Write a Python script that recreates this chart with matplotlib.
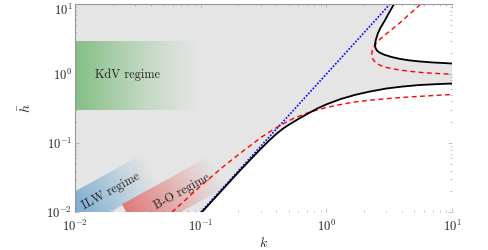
import numpy as np
import matplotlib
matplotlib.use("Agg")
import matplotlib.pyplot as plt
from matplotlib.patches import Polygon
from matplotlib.ticker import LogLocator, NullFormatter
from matplotlib.colors import to_rgb
from matplotlib.transforms import ScaledTranslation

plt.rcParams["mathtext.fontset"] = "cm"
plt.rcParams["font.family"] = ["cmr10", "DejaVu Serif"]
plt.rcParams["axes.formatter.use_mathtext"] = True

# ---------------- data ----------------
k_blue = [0.1, 3.2]
h_blue = [0.01, 10.0]

k_black_lo = [0.102, 0.2, 0.3, 0.35, 0.4, 0.45, 0.5, 0.6, 0.7, 0.85, 1.0, 1.3, 1.7, 2.2, 3.0, 4.0, 5.5, 7.5, 10.0]
h_black_lo = [0.01, 0.038, 0.082, 0.108, 0.135, 0.16, 0.182, 0.222, 0.26, 0.315, 0.36, 0.43, 0.495, 0.55, 0.61, 0.65, 0.685, 0.705, 0.72]

k_black_up = [3.45, 3.15, 2.9, 2.7, 2.57, 2.48, 2.44, 2.46, 2.53, 2.67, 2.9, 3.3, 3.8, 4.5, 5.5, 7.0, 10.0]
h_black_up = [10.0, 7.5, 5.7, 4.6, 3.8, 3.1, 2.65, 2.35, 2.15, 2.0, 1.87, 1.74, 1.64, 1.56, 1.5, 1.45, 1.4]

k_red_lo = [0.059, 0.1, 0.15, 0.2, 0.255, 0.306, 0.38, 0.455, 0.55, 0.74, 1.0, 1.21, 1.6, 2.16, 3.2, 4.64, 7.0, 10.0]
h_red_lo = [0.01, 0.024, 0.045, 0.068, 0.095, 0.122, 0.157, 0.19, 0.227, 0.279, 0.325, 0.35, 0.385, 0.412, 0.44, 0.462, 0.482, 0.5]

k_red_up = [5.6, 4.9, 4.3, 3.8, 3.35, 3.0, 2.7, 2.5, 2.37, 2.31, 2.3, 2.34, 2.45, 2.65, 3.0, 3.6, 4.6, 6.0, 8.0, 10.0]
h_red_up = [10.0, 8.0, 6.5, 5.3, 4.4, 3.75, 3.2, 2.75, 2.4, 2.1, 1.85, 1.63, 1.46, 1.33, 1.23, 1.15, 1.08, 1.03, 1.0, 0.98]

x_ticks = [1e-2, 1e-1, 1e0, 1e1]
x_tick_labels = [r"$10^{-2}$", r"$10^{-1}$", r"$10^{0}$", r"$10^{1}$"]
y_ticks = [1e-2, 1e-1, 1e0, 1e1]
y_tick_labels = [r"$10^{-2}$", r"$10^{-1}$", r"$10^{0}$", r"$10^{1}$"]

regime_labels = ["KdV regime", "ILW regime", "B-O regime"]
regime_k = [0.026, 0.0193, 0.0706]
regime_h = [0.95, 0.0199, 0.0200]

# ---------------- figure ----------------
fig = plt.figure(figsize=(4.88, 2.5), dpi=100)
ax = fig.add_axes([75 / 488, 1 - 212.3 / 250, 377 / 488, 208 / 250])
ax.set_xscale("log")
ax.set_yscale("log")
ax.set_xlim(1e-2, 1e1)
ax.set_ylim(1e-2, 1e1)
ax.set_autoscale_on(False)

# gray admissible region
verts = [(1e-2, 1e-2)] + list(zip(k_black_lo, h_black_lo)) + \
        list(zip(k_black_up[::-1], h_black_up[::-1])) + [(1e-2, 1e1)]
ax.add_patch(Polygon(verts, closed=True, facecolor="#e5e5e5", edgecolor="none", zorder=0.5))

bb = ax.get_window_extent()
W, H = bb.width, bb.height


def to_px(k, h):
    x, y = ax.transData.transform((k, h))
    return x - bb.x0, y - bb.y0


def from_px(X, Y):
    return ax.transData.inverted().transform((X + bb.x0, Y + bb.y0))


def gradient_band(center, angle_deg, half_w, s0, s1, color, amax, power, z):
    cx, cy = to_px(*center)
    a = np.deg2rad(angle_deg)
    d = np.array([np.cos(a), np.sin(a)])
    n = np.array([-np.sin(a), np.cos(a)])
    c = np.array([cx, cy])
    pts = [c + s * d + w * n for s, w in [(s0, -half_w), (s1, -half_w), (s1, half_w), (s0, half_w)]]
    poly = Polygon([from_px(*p) for p in pts], closed=True, transform=ax.transData)
    nx, ny = int(round(W)), int(round(H))
    XX, YY = np.meshgrid(np.arange(nx) + 0.5, np.arange(ny) + 0.5)
    s = (XX - cx) * d[0] + (YY - cy) * d[1]
    t = np.clip((s - s0) / (s1 - s0), 0, 1)
    img = np.zeros((ny, nx, 4))
    img[..., :3] = to_rgb(color)
    img[..., 3] = amax * (1 - t) ** power
    im = ax.imshow(img, extent=(0, 1, 0, 1), transform=ax.transAxes, origin="lower",
                   aspect="auto", interpolation="bilinear", zorder=z)
    im.set_clip_path(poly)


# display angle of a slope-1 line
x0p, y0p = to_px(0.01, 0.01)
x1p, y1p = to_px(0.1, 0.1)
ang = np.degrees(np.arctan2(y1p - y0p, x1p - x0p))

# KdV band (horizontal)
kx0, ky0 = to_px(0.01, 0.3)
kx1, ky1 = to_px(0.105, 3.0)
gradient_band((0.01, np.sqrt(0.3 * 3.0)), 0.0, (ky1 - ky0) / 2, 0.0, kx1 - kx0,
              "#6ab56a", 0.8, 1.3, 1)
# ILW band
gradient_band((regime_k[1], regime_h[1]), ang, 17.5, -60, 48, "#4f97c8", 0.9, 1.1, 1)
# B-O band
gradient_band((regime_k[2], regime_h[2]), ang, 17.5, -58.5, 42, "#e06464", 0.85, 1.1, 1)

ax.set_xlim(1e-2, 1e1)
ax.set_ylim(1e-2, 1e1)

# regime labels
ax.text(regime_k[0], regime_h[0], regime_labels[0], fontsize=8.8, ha="center", va="center",
        color="#222222", zorder=2)
for i in (1, 2):
    ax.text(regime_k[i], regime_h[i], regime_labels[i], fontsize=8.8, ha="center", va="center",
            rotation=ang, rotation_mode="anchor", color="#222222", zorder=2)

# curves
ax.plot(k_blue, h_blue, color="blue", lw=1.2, ls=(0, (1, 1)), zorder=3)
ax.plot(k_red_lo, h_red_lo, color="red", lw=1.0, ls=(0, (3.5, 2.5)), zorder=3)
ax.plot(k_red_up, h_red_up, color="red", lw=1.0, ls=(0, (3.5, 2.5)), zorder=3)
ax.plot(k_black_lo, h_black_lo, color="black", lw=1.3, zorder=4)
ax.plot(k_black_up, h_black_up, color="black", lw=1.3, zorder=4)

# axes styling
for side in ("bottom", "right"):
    ax.spines[side].set_visible(False)
for side in ("left", "top"):
    ax.spines[side].set_color("#999999")
    ax.spines[side].set_linewidth(0.8)
    ax.spines[side].set_zorder(5)

ax.set_xticks(x_ticks)
ax.set_xticklabels(x_tick_labels)
ax.set_yticks(y_ticks)
ax.set_yticklabels(y_tick_labels)
ax.xaxis.set_minor_locator(LogLocator(base=10, subs=np.arange(2, 10)))
ax.yaxis.set_minor_locator(LogLocator(base=10, subs=np.arange(2, 10)))
ax.xaxis.set_minor_formatter(NullFormatter())
ax.yaxis.set_minor_formatter(NullFormatter())
ax.tick_params(which="both", direction="in", top=True, right=True, color="#aaaaaa",
               labelcolor="#222222", labelsize=9, width=0.5)
ax.tick_params(which="major", length=3)
ax.tick_params(which="minor", length=1.6)
ax.tick_params(axis="x", which="both", pad=5)
ax.tick_params(axis="y", which="both", pad=2)

# keep the top y tick label just inside the canvas
top_lab = ax.get_yticklabels()[-1]
top_lab.set_transform(top_lab.get_transform() + ScaledTranslation(0, -3 / 72, fig.dpi_scale_trans))

ax.set_xlabel(r"$k$", fontsize=10, labelpad=1, color="#222222")
ax.set_ylabel(r"$\bar{h}$", fontsize=10, labelpad=9, color="#222222")

fig.savefig("out.png", dpi=100)
